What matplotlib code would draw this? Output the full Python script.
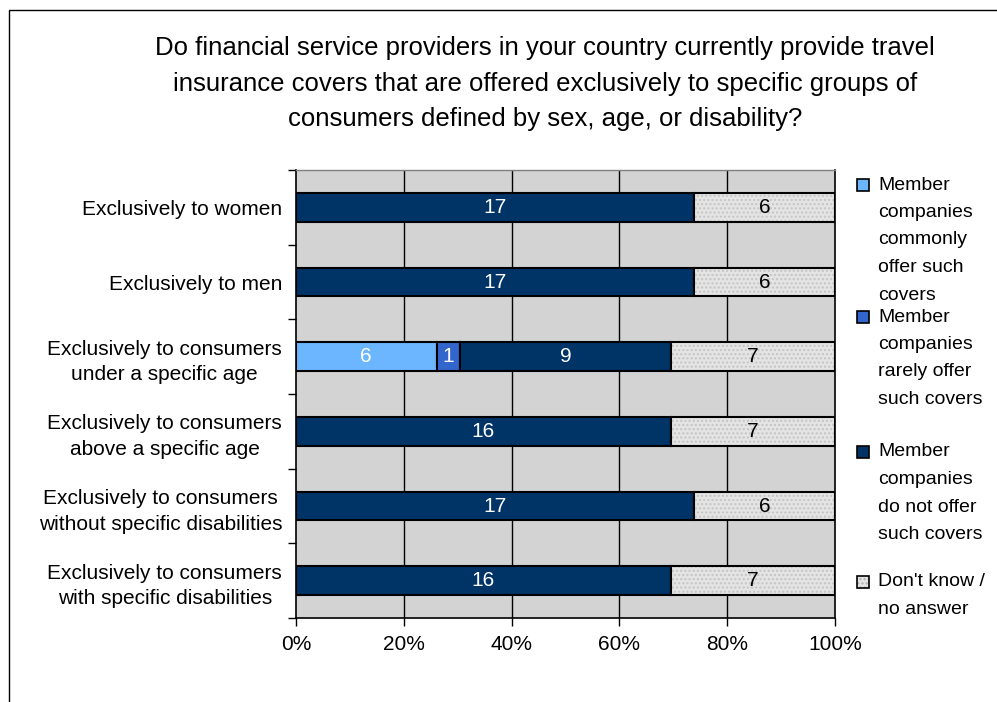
import numpy as np
import matplotlib
matplotlib.use("Agg")
import matplotlib.pyplot as plt
from matplotlib.patches import Rectangle

plt.rcParams['font.family'] = ['Liberation Sans', 'DejaVu Sans']

# data
categories = ["Exclusively to women",
              "Exclusively to men",
              "Exclusively to consumers\nunder a specific age",
              "Exclusively to consumers\nabove a specific age",
              "Exclusively to consumers\nwithout specific disabilities",
              "Exclusively to consumers\nwith specific disabilities"]
series_names = ["Member\ncompanies\ncommonly\noffer such\ncovers",
                "Member\ncompanies\nrarely offer\nsuch covers",
                "Member\ncompanies\ndo not offer\nsuch covers",
                "Don't know /\nno answer"]
commonly = [0, 0, 6, 0, 0, 0]
rarely = [0, 0, 1, 0, 0, 0]
not_offer = [17, 17, 9, 16, 17, 16]
dont_know = [6, 6, 7, 7, 6, 7]
x_ticks = [0, 20, 40, 60, 80, 100]
title_lines = ["Do financial service providers in your country currently provide travel",
               "insurance covers that are offered exclusively to specific groups of",
               "consumers defined by sex, age, or disability?"]

colors = ['#6BB6FF', '#3366CC', '#003366', '#E4E4E4']
text_colors = ['white', 'white', 'white', 'black']

W, H = 997, 702
fig = plt.figure(figsize=(W / 100, H / 100), dpi=100)

# outer chart border (cut off at right and bottom)
fig.patches.append(Rectangle((9 / W, -0.05), 1.1, (H - 9.5) / H + 0.05,
                             transform=fig.transFigure, fill=False,
                             edgecolor='black', lw=1.0, clip_on=False))

ax = fig.add_axes([296 / W, 1 - 618 / H, (835 - 296) / W, (618 - 170) / H])
ax.set_facecolor('#D3D3D3')

data = np.array([commonly, rarely, not_offer, dont_know], dtype=float)
totals = data.sum(axis=0)
shares = data / totals * 100
n = len(categories)
y = np.arange(n)
left = np.zeros(n)
bh = 0.38
for i in range(len(data)):
    if i == 3:
        ax.barh(y, shares[i], left=left, height=bh, color=colors[i],
                hatch='....', edgecolor='#C4C4C4', linewidth=0, zorder=3)
        ax.barh(y, shares[i], left=left, height=bh, fill=False,
                edgecolor='black', linewidth=1.5, zorder=3)
    else:
        ax.barh(y, shares[i], left=left, height=bh, color=colors[i],
                edgecolor='black', linewidth=1.5, zorder=3)
    for j in range(n):
        if data[i, j] > 0:
            ax.text(left[j] + shares[i, j] / 2, y[j], str(int(data[i, j])),
                    ha='center', va='center', fontsize=15,
                    color=text_colors[i], zorder=4)
    left += shares[i]

ax.set_xlim(0, 100)
ax.set_ylim(n - 0.5, -0.5)
for v in x_ticks[1:-1]:
    ax.axvline(v, color='black', lw=1.0, zorder=1)

ax.set_xticks(x_ticks)
ax.set_xticklabels([f"{v}%" for v in x_ticks], fontsize=15)
ax.tick_params(axis='x', direction='out', length=6, width=1, pad=6)
ax.set_yticks(y)
ax.set_yticklabels(categories, fontsize=15, multialignment='center',
                   linespacing=1.45)
ax.tick_params(axis='y', which='major', length=0, pad=10)
ax.set_yticks(np.arange(n + 1) - 0.5, minor=True)
ax.tick_params(axis='y', which='minor', direction='out', length=6, width=1)

for s in ['left', 'bottom', 'right']:
    ax.spines[s].set_color('black')
    ax.spines[s].set_linewidth(1.2)
ax.spines['top'].set_color('#808080')
ax.spines['top'].set_linewidth(1.0)

# title
title_y = [48, 84, 119]
for line, ty in zip(title_lines, title_y):
    fig.text(545 / W, 1 - ty / H, line, ha='center', va='center', fontsize=18.5)

# legend, drawn by hand
leg_y = [185, 317, 452, 582]
lx = 857
for name, c, ly in zip(series_names, colors, leg_y):
    if c == colors[3]:
        fig.patches.append(Rectangle((lx / W, 1 - (ly + 6) / H), 12 / W, 12 / H,
                                     transform=fig.transFigure, facecolor=c,
                                     hatch='....', edgecolor='#B0B0B0', lw=0))
    fig.patches.append(Rectangle((lx / W, 1 - (ly + 6) / H), 12 / W, 12 / H,
                                 transform=fig.transFigure,
                                 facecolor=c if c != colors[3] else 'none',
                                 edgecolor='black', lw=1.2))
    for k, part in enumerate(name.split('\n')):
        fig.text((lx + 21) / W, 1 - (ly + k * 27.5) / H, part, ha='left',
                 va='center', fontsize=14)

fig.savefig('out.png', dpi=100)
